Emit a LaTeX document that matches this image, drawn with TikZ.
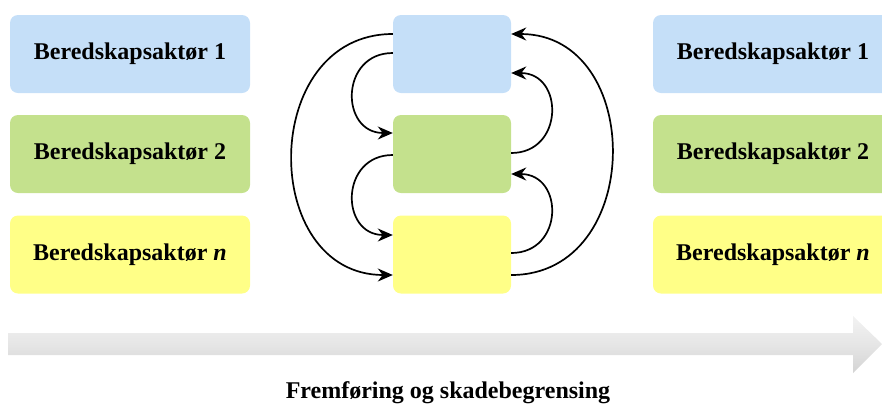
\documentclass[tikz,border=0pt]{standalone}
\usepackage{fontspec}
\setmainfont{Liberation Serif}
\usetikzlibrary{arrows.meta}
\definecolor{cblue}{RGB}{197,223,248}
\definecolor{cgreen}{RGB}{196,225,141}
\definecolor{cyellow}{RGB}{255,255,135}
\tikzset{
  actbox/.style={rounded corners=8pt, draw=none, minimum height=78pt, inner sep=0pt,
    font=\bfseries\fontsize{24}{27}\selectfont, text=black},
  widebox/.style={actbox, minimum width=240pt},
  midbox/.style={actbox, minimum width=118pt},
  conn/.style={line width=1.7pt, -{Stealth[length=15pt,width=13pt]}},
}
\begin{document}
\begin{tikzpicture}[x=1pt,y=-1pt]
\useasboundingbox (0,0) rectangle (882,408);
\clip (0,0) rectangle (882,408);
% left column
\node[widebox, fill=cblue]   (l1) at (130,54)  {Beredskapsaktør 1};
\node[widebox, fill=cgreen]  (l2) at (130,154) {Beredskapsaktør 2};
\node[widebox, fill=cyellow] (l3) at (130,254.5) {Beredskapsaktør \textit{n}};
% middle column
\node[midbox, fill=cblue]   (m1) at (452,54)  {};
\node[midbox, fill=cgreen]  (m2) at (452,154) {};
\node[midbox, fill=cyellow] (m3) at (452,254.5) {};
% right column
\node[widebox, fill=cblue]   (r1) at (773,54)  {Beredskapsaktør 1};
\node[widebox, fill=cgreen]  (r2) at (773,154) {Beredskapsaktør 2};
\node[widebox, fill=cyellow] (r3) at (773,254.5) {Beredskapsaktør \textit{n}};
% left connectors
\draw[conn] ([yshift=20pt]m1.west) .. controls +(-134,0) and +(-134,0) .. ([yshift=-20.5pt]m3.west);
\draw[conn] ([yshift=1pt]m1.west) .. controls +(-53,0) and +(-53,0) .. ([yshift=21pt]m2.west);
\draw[conn] ([yshift=-1pt]m2.west) .. controls +(-53,0) and +(-53,0) .. ([yshift=19.5pt]m3.west);
% right connectors
\draw[conn] ([yshift=-20.5pt]m3.east) .. controls +(134,0) and +(134,0) .. ([yshift=20pt]m1.east);
\draw[conn] ([yshift=1pt]m2.east) .. controls +(53,0) and +(53,0) .. ([yshift=-19pt]m1.east);
\draw[conn] ([yshift=1.5pt]m3.east) .. controls +(53,0) and +(53,0) .. ([yshift=-20pt]m2.east);
% bottom arrow
\shade[top color=gray!10, bottom color=gray!34, middle color=gray!20]
  (8,333) -- (853,333) -- (853,316) -- (882,344) -- (853,373) -- (853,355) -- (8,355) -- cycle;
\node[anchor=base, font=\bfseries\fontsize{24}{27}\selectfont, text=black] (cap) at (448,398) {Fremføring og skadebegrensing};
\end{tikzpicture}
\end{document}
